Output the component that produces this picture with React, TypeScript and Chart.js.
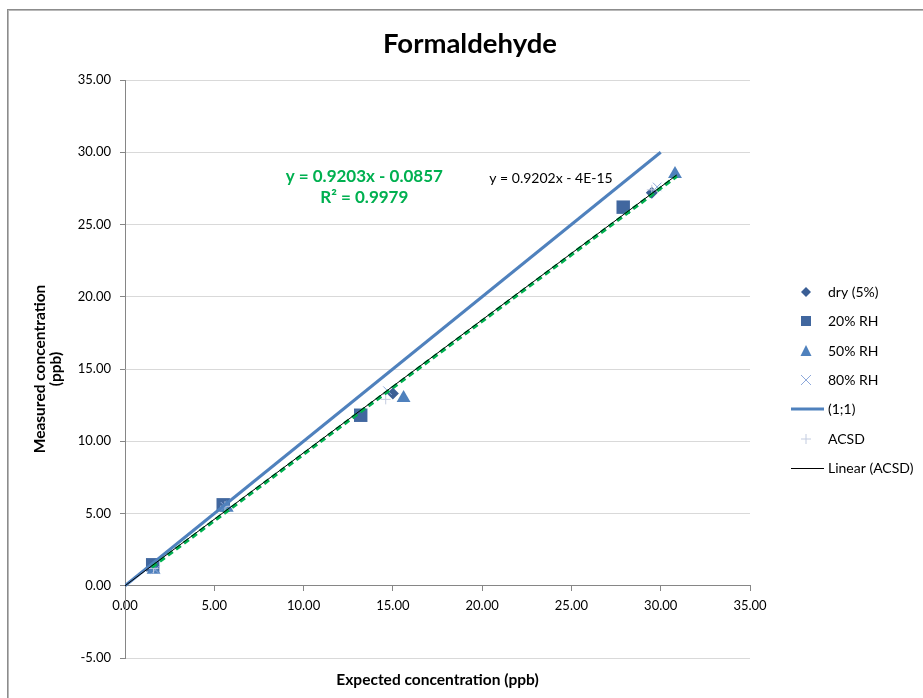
import { useEffect, useRef } from 'react';
import { Chart, registerables } from 'chart.js';

Chart.register(...registerables);

const FONT = 'Lato';

// Data
const dryX = [1.5, 5.5, 15.0, 29.5];
const dryY = [1.3, 5.5, 13.3, 27.2];
const rh20X = [1.55, 5.5, 13.2, 27.9];
const rh20Y = [1.45, 5.6, 11.8, 26.2];
const rh50X = [1.6, 5.7, 15.6, 30.8];
const rh50Y = [1.1, 5.4, 13.0, 28.5];
const rh80X = [1.7, 5.6, 14.7, 29.8];
const rh80Y = [1.1, 5.5, 13.5, 27.6];
const oneX = [0, 30];
const oneY = [0, 30];
const acsdX = [1.6, 5.6, 14.6, 29.5];
const acsdY = [1.2, 5.5, 12.9, 27.4];
const linX = [0, 30.9];
const linY = [0, 28.43];
const trendX = [1.5, 30.9];
const trendY = [1.29, 28.35];

const legendLabels = ['dry (5%)', '20% RH', '50% RH', '80% RH', '(1;1)', 'ACSD', 'Linear (ACSD)'];
const annoGreen = ['y = 0.9203x - 0.0857', 'R² = 0.9979'];
const annoBlack = 'y = 0.9202x - 4E-15';
const titleText = 'Formaldehyde';
const xTitle = 'Expected concentration (ppb)';
const yTitle = ['Measured concentration', '(ppb)'];

const pts = (xs: number[], ys: number[]) => xs.map((x, i) => ({ x, y: ys[i] }));

const C_DRY = '#3A5E95';
const C_20 = '#41679F';
const C_50 = '#4F81BD';
const C_80 = '#8EA9DB';
const C_ONE = '#4F81BD';
const C_ACSD = '#C3CCE0';
const C_GREEN = '#00B050';

const extras = {
  id: 'extras',
  beforeDraw(chart: any) {
    const ctx = chart.ctx;
    ctx.save();
    ctx.fillStyle = '#ffffff';
    ctx.fillRect(0, 0, chart.width, chart.height);
    ctx.lineWidth = 1;
    ctx.strokeStyle = '#8c8c8c';
    ctx.strokeRect(7.5, 9.5, 1200, 1200);
    ctx.strokeStyle = '#b8b8b8';
    ctx.strokeRect(8.5, 10.5, 1200, 1200);
    ctx.restore();
  },
  afterDraw(chart: any) {
    const ctx = chart.ctx;
    const area = chart.chartArea;
    const xs = chart.scales.x;
    const ys = chart.scales.y;
    ctx.save();
    // title
    ctx.fillStyle = '#000';
    ctx.textAlign = 'center';
    ctx.textBaseline = 'middle';
    ctx.font = `bold 27.5px ${FONT}`;
    ctx.fillText(titleText, 470, 44);
    // x title
    ctx.font = `bold 15.5px ${FONT}`;
    ctx.fillText(xTitle, (area.left + area.right) / 2, 680);
    // annotations
    ctx.fillStyle = C_GREEN;
    ctx.font = `bold 17px ${FONT}`;
    ctx.fillText(annoGreen[0], xs.getPixelForValue(13.4), ys.getPixelForValue(28.3));
    ctx.fillText(annoGreen[1], xs.getPixelForValue(13.4), ys.getPixelForValue(26.9));
    ctx.fillStyle = '#000';
    ctx.font = `14px ${FONT}`;
    ctx.textAlign = 'left';
    ctx.fillText(annoBlack, xs.getPixelForValue(20.4), ys.getPixelForValue(28.2));

    // legend
    const lx = 806;
    const tx = 828;
    const rows = [292, 321, 351, 380, 409, 439, 468];
    ctx.font = `14px ${FONT}`;
    ctx.textAlign = 'left';
    ctx.textBaseline = 'middle';
    rows.forEach((y, i) => {
      ctx.fillStyle = '#000';
      ctx.fillText(legendLabels[i], tx, y);
      ctx.beginPath();
      if (i === 0) {
        ctx.fillStyle = C_DRY;
        ctx.moveTo(lx, y - 5);
        ctx.lineTo(lx + 5, y);
        ctx.lineTo(lx, y + 5);
        ctx.lineTo(lx - 5, y);
        ctx.closePath();
        ctx.fill();
      } else if (i === 1) {
        ctx.fillStyle = C_20;
        ctx.fillRect(lx - 5, y - 5, 10, 10);
      } else if (i === 2) {
        ctx.fillStyle = C_50;
        ctx.moveTo(lx, y - 6);
        ctx.lineTo(lx + 5.5, y + 5);
        ctx.lineTo(lx - 5.5, y + 5);
        ctx.closePath();
        ctx.fill();
      } else if (i === 3) {
        ctx.strokeStyle = C_80;
        ctx.lineWidth = 1;
        ctx.moveTo(lx - 5, y - 5);
        ctx.lineTo(lx + 5, y + 5);
        ctx.moveTo(lx + 5, y - 5);
        ctx.lineTo(lx - 5, y + 5);
        ctx.stroke();
      } else if (i === 4) {
        ctx.strokeStyle = C_ONE;
        ctx.lineWidth = 3;
        ctx.moveTo(791, y);
        ctx.lineTo(824, y);
        ctx.stroke();
      } else if (i === 5) {
        ctx.strokeStyle = C_ACSD;
        ctx.lineWidth = 1;
        ctx.moveTo(lx - 5, y);
        ctx.lineTo(lx + 5, y);
        ctx.moveTo(lx, y - 5);
        ctx.lineTo(lx, y + 5);
        ctx.stroke();
      } else {
        ctx.strokeStyle = '#000';
        ctx.lineWidth = 1;
        ctx.moveTo(791, y + 0.5);
        ctx.lineTo(824, y + 0.5);
        ctx.stroke();
      }
    });
    ctx.restore();
  },
};

export default function App() {
  const ref = useRef<HTMLCanvasElement | null>(null);

  useEffect(() => {
    document.body.style.margin = '0';
    if (!ref.current) return;
    const chart = new Chart(ref.current, {
      type: 'scatter',
      data: {
        datasets: [
          {
            label: 'Linear (ACSD)',
            data: pts(linX, linY),
            showLine: true,
            borderColor: '#000',
            borderWidth: 1,
            pointRadius: 0,
            order: 0,
          },
          {
            label: 'trend',
            data: pts(trendX, trendY),
            showLine: true,
            borderColor: C_GREEN,
            borderWidth: 3.5,
            borderDash: [6, 4],
            pointRadius: 0,
            order: 1,
          },
          {
            label: '(1;1)',
            data: pts(oneX, oneY),
            showLine: true,
            borderColor: C_ONE,
            borderWidth: 3,
            pointRadius: 0,
            order: 2,
          },
          {
            label: 'ACSD',
            data: pts(acsdX, acsdY),
            pointStyle: 'cross',
            pointRadius: 5,
            borderColor: C_ACSD,
            backgroundColor: C_ACSD,
            borderWidth: 1,
            order: 3,
          },
          {
            label: '80% RH',
            data: pts(rh80X, rh80Y),
            pointStyle: 'crossRot',
            pointRadius: 6,
            borderColor: C_80,
            backgroundColor: C_80,
            borderWidth: 1,
            order: 4,
          },
          {
            label: '50% RH',
            data: pts(rh50X, rh50Y),
            pointStyle: 'triangle',
            pointRadius: 8,
            borderColor: C_50,
            backgroundColor: C_50,
            borderWidth: 0,
            order: 5,
          },
          {
            label: '20% RH',
            data: pts(rh20X, rh20Y),
            pointStyle: 'rect',
            pointRadius: 9.5,
            borderColor: C_20,
            backgroundColor: C_20,
            borderWidth: 0,
            order: 6,
          },
          {
            label: 'dry (5%)',
            data: pts(dryX, dryY),
            pointStyle: 'rectRot',
            pointRadius: 6,
            borderColor: C_DRY,
            backgroundColor: C_DRY,
            borderWidth: 0,
            order: 7,
          },
        ],
      },
      options: {
        responsive: false,
        animation: false,
        layout: { padding: { top: 80, left: 28, right: 173, bottom: 40 } },
        plugins: {
          legend: { display: false },
          tooltip: { enabled: false },
          title: { display: false },
        },
        scales: {
          x: {
            type: 'linear',
            position: { y: 0 } as any,
            min: 0,
            max: 35,
            ticks: {
              stepSize: 5,
              color: '#000',
              font: { family: FONT, size: 13 },
              padding: 7,
              callback: (v: any) => Number(v).toFixed(2),
            },
            grid: {
              display: true,
              drawOnChartArea: false,
              drawTicks: true,
              tickLength: 5,
              color: '#868686',
            },
            border: { display: true, color: '#868686', width: 1 },
          },
          y: {
            type: 'linear',
            position: 'left',
            min: -5,
            max: 35,
            afterFit: (scale: any) => {
              scale.width = 97;
            },
            ticks: {
              stepSize: 5,
              color: '#000',
              font: { family: FONT, size: 13 },
              padding: 9,
              callback: (v: any) => Number(v).toFixed(2),
            },
            grid: {
              color: '#D9D9D9',
              tickColor: '#868686',
              tickLength: 5,
            },
            border: { display: true, color: '#868686', width: 1 },
            title: {
              display: true,
              text: yTitle,
              color: '#000',
              padding: { top: 4, bottom: 4 },
              font: { family: FONT, size: 15.5, weight: 'bold', lineHeight: 1.05 },
            },
          },
        },
      },
      plugins: [extras],
    });
    return () => chart.destroy();
  }, []);

  return <canvas ref={ref} width={923} height={698} style={{ display: 'block', width: 923, height: 698 }} />;
}
